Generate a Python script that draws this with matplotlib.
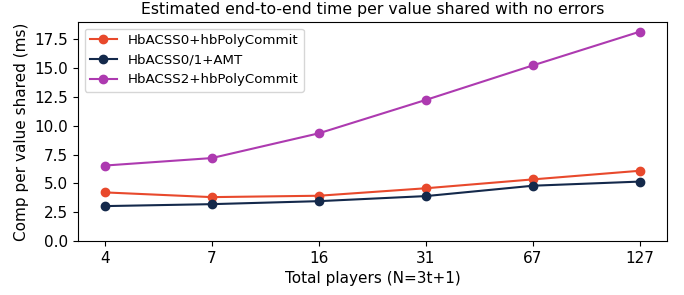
import matplotlib
matplotlib.use("Agg")
import matplotlib.pyplot as plt

players = ["4", "7", "16", "31", "67", "127"]
hbacss0_poly = [4.22, 3.81, 3.93, 4.58, 5.35, 6.1]
hbacss01_amt = [3.03, 3.2, 3.46, 3.9, 4.8, 5.16]
hbacss2_poly = [6.55, 7.2, 9.35, 12.25, 15.25, 18.18]

labels = ["HbACSS0+hbPolyCommit", "HbACSS0/1+AMT", "HbACSS2+hbPolyCommit"]
colors = ["#E8492C", "#14294B", "#AD3AB0"]

plt.rcParams['font.family'] = ['DejaVu Sans']
fig, ax = plt.subplots(figsize=(6.84, 2.95), dpi=100)
x = list(range(len(players)))
for vals, lab, c in zip([hbacss0_poly, hbacss01_amt, hbacss2_poly], labels, colors):
    ax.plot(x, vals, marker='o', color=c, label=lab, linewidth=1.5, markersize=6)
ax.set_xticks(x)
ax.set_xticklabels(players)
ax.set_ylim(0, 19)
ax.set_yticks([0, 2.5, 5, 7.5, 10, 12.5, 15, 17.5])
ax.set_xlabel("Total players (N=3t+1)", fontsize=11)
ax.set_ylabel("Comp per value shared (ms)", fontsize=11)
ax.set_title("Estimated end-to-end time per value shared with no errors", fontsize=11.3)
ax.tick_params(labelsize=11)
ax.legend(loc='upper left', fontsize=9.6)
fig.subplots_adjust(left=0.114, right=0.975, top=0.925, bottom=0.183)
fig.savefig("out.png", dpi=100)
